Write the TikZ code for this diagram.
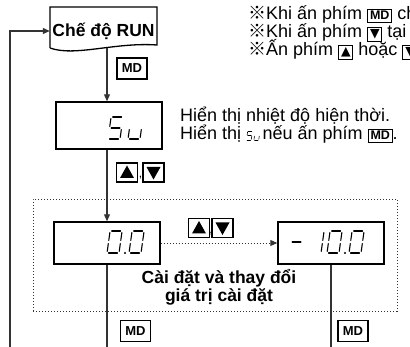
\documentclass[tikz,border=0pt]{standalone}
\usepackage{fontspec}
\setmainfont{Liberation Sans}
\newfontfamily\refmark{Noto Sans CJK JP}
\newfontfamily\symf{DejaVu Sans}
\usetikzlibrary{arrows.meta,calc}

% seven-segment strokes of one LCD cell (origin at the lower left, 12 x 22)
\newcommand\lcdsega{\draw (1.6,-22) -- (10.4,-22);}
\newcommand\lcdsegb{\draw (12,-20.4) -- (12,-12.6);}
\newcommand\lcdsegc{\draw (12,-9.4) -- (12,-1.6);}
\newcommand\lcdsegd{\draw (1.6,0) -- (10.4,0);}
\newcommand\lcdsege{\draw (0,-1.6) -- (0,-9.4);}
\newcommand\lcdsegf{\draw (0,-12.6) -- (0,-20.4);}
\newcommand\lcdsegg{\draw (1.6,-11) -- (10.4,-11);}
\newcommand\lcdglyph[3][]{%
  \begin{scope}[shift={(#2)},xslant=0.14,lcd,#1]
    \foreach \s in {#3}{\csname lcdseg\s\endcsname}
  \end{scope}}

% key caps inside running text
\setlength\fboxrule{1pt}
\setlength\fboxsep{1.8pt}
\newcommand\kbox[1]{\fbox{#1}}
\newcommand\mdcap{\kbox{\fontsize{12.5}{12.5}\selectfont\bfseries MD}}
\newcommand\upcap{\kbox{\symf\fontsize{12.5}{12.5}\selectfont ▲}}
\newcommand\dncap{\kbox{\symf\fontsize{12.5}{12.5}\selectfont ▼}}

\begin{document}
\begin{tikzpicture}[x=1pt,y=-1pt,
  conn/.style={line width=1.1pt, draw=black!80},
  arr/.style={-{Triangle[length=7pt,width=6pt]}},
  dotline/.style={line width=0.9pt, draw=black!80, dash pattern=on 1.2pt off 1.8pt},
  dispbox/.style={draw, line width=1.4pt, minimum width=106pt, minimum height=42pt, inner sep=0pt},
  mdkey/.style={draw, line width=1.2pt, font=\fontsize{13}{13}\selectfont\bfseries, minimum width=30pt, minimum height=21pt, inner sep=0pt},
  arrowkey/.style={draw, line width=1.2pt, minimum width=21pt, minimum height=19pt, inner sep=0pt},
  upkey/.style={arrowkey, path picture={\fill ([shift={(-7,5.5)}]path picture bounding box.center) -- ([shift={(7,5.5)}]path picture bounding box.center) -- ([shift={(0,-7)}]path picture bounding box.center) -- cycle;}},
  dnkey/.style={arrowkey, path picture={\fill ([shift={(-7,-5.5)}]path picture bounding box.center) -- ([shift={(7,-5.5)}]path picture bounding box.center) -- ([shift={(0,7)}]path picture bounding box.center) -- cycle;}},
  lcd/.style={line width=1.1pt, line cap=round},
  txt/.style={inner sep=0pt, anchor=base west, font=\fontsize{18}{18}\selectfont},
  boldtxt/.style={font=\fontsize{17.5}{18}\selectfont\bfseries, inner sep=0pt},
]
\useasboundingbox (0,0) rectangle (410,347);
\clip (0,0) rectangle (410,347);

% RUN mode sheet
\node[boldtxt, minimum width=107pt, minimum height=48pt] (run) at (103.5,31) {Chế độ RUN};
\draw[line width=1.3pt] (50,48) -- (50,7) -- (157,7) -- (157,45)
  .. controls (115,42) and (75,57) .. (50,48);
\coordinate (runbot) at (107,48.5);

% displays
\node[dispbox, minimum height=47pt] (su) at (109,125.5) {};
\node[dotline, draw, minimum width=364pt, minimum height=112pt] (grp) at (215,255) {};
\node[dispbox] (zero) at (107,243) {};
\node[dispbox] (neg) at (331,243) {};

% LCD readouts
\lcdglyph{108,139}{a,f,g,c,d}
\lcdglyph{128,139}{c,d,e}
\lcdglyph{107,253}{a,b,c,d,e,f}
\fill (125,253) circle (1.1);
\lcdglyph{129,253}{a,b,c,d,e,f}
\lcdglyph{289,253}{g}
\lcdglyph{309,253}{b,c}
\lcdglyph{327,253}{a,b,c,d,e,f}
\fill (345,253) circle (1.1);
\lcdglyph{349,253}{a,b,c,d,e,f}

% keys
\node[mdkey] (mdA) at (132,68.5) {MD};
\node[upkey] (upA) at (127,172.5) {};
\node[dnkey] (dnA) at (153.5,172.5) {};
\node[inner sep=0pt, font=\fontsize{12}{12}\selectfont] (cmA) at (140.5,178) {,};
\node[upkey] (upB) at (199,228) {};
\node[dnkey] (dnB) at (222.5,228) {};
\node[inner sep=0pt, font=\fontsize{12}{12}\selectfont] (cmB) at (211,234) {,};
\node[mdkey] (mdC) at (135.5,331) {MD};
\node[mdkey] (mdD) at (353,331) {MD};

\node[boldtxt, align=center] (cap) at (219,287) {Cài đặt và thay đổi\\giá trị cài đặt};

% connectors
\coordinate (floor) at (0,352);
\coordinate (loopfoot) at (10,352);
\draw[conn,arr] (runbot) -- (runbot |- su.north);
\draw[conn,arr] (su.south -| zero.north) -- (zero.north);
\draw[dotline,arr] (zero.east) -- (neg.west);
\draw[conn] (zero.south) -- (zero.south |- floor);
\draw[conn] (neg.south) -- (neg.south |- floor);
\draw[conn,arr] (loopfoot) |- (run.west);

% notes
\node[txt] (n1) at (248,20) {{\refmark ※}Khi ấn phím \mdcap{} ch};
\node[txt] (n2) at (248,38) {{\refmark ※}Khi ấn phím \dncap{} tại};
\node[txt] (n3) at (248,56) {{\refmark ※}Ấn phím \upcap{} hoặc \dncap};
\node[txt] (n4) at (180,122) {Hiển thị nhiệt độ hiện thời.};
\node[txt] (n5a) at (180,140) {Hiển thị};
\lcdglyph[scale=0.4,line width=0.6pt]{$(n5a.base east)+(5,0)$}{a,f,g,c,d}
\lcdglyph[scale=0.4,line width=0.6pt]{$(n5a.base east)+(12.5,0)$}{c,d,e}
\node[txt] (n5b) at ($(n5a.base east)+(21,0)$) {nếu ấn phím \mdcap.};
\end{tikzpicture}
\end{document}
